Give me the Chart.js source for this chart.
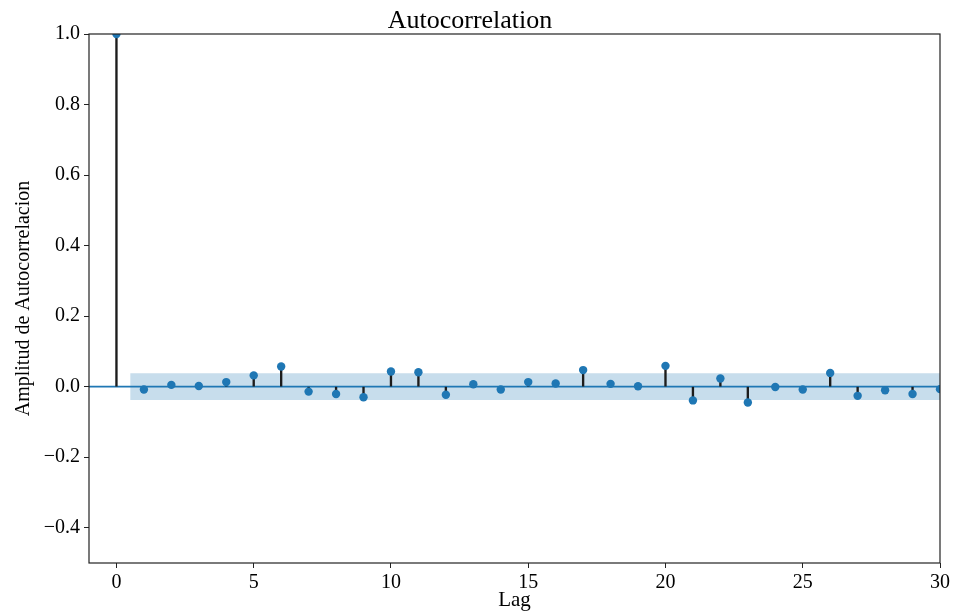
<!DOCTYPE html>
<html>
<head>
<meta charset="utf-8">
<script src="https://cdn.jsdelivr.net/npm/chart.js@4/dist/chart.umd.min.js"></script>
<style>
html,body{margin:0;padding:0;background:#fff;}
#wrap{width:954px;height:613px;position:relative;}
</style>
</head>
<body>
<div id="wrap"><canvas id="c" width="954" height="613"></canvas></div>
<script>
const lags = [0,1,2,3,4,5,6,7,8,9,10,11,12,13,14,15,16,17,18,19,20,21,22,23,24,25,26,27,28,29,30];
const acfValues = [1.0,-0.008,0.005,0.002,0.013,0.032,0.057,-0.014,-0.021,-0.030,0.043,0.041,-0.023,0.007,-0.008,0.013,0.009,0.047,0.008,0.001,0.059,-0.039,0.023,-0.045,-0.001,-0.008,0.039,-0.026,-0.010,-0.021,-0.007];
const confBound = 0.038;
const bandLags = [0.5, 30.5];
const xTicks = [0,5,10,15,20,25,30];
const yTicks = [-0.4,-0.2,0.0,0.2,0.4,0.6,0.8,1.0];

const serif = '"Liberation Serif", "Times New Roman", serif';
const C0 = '#1f77b4';

const framePlugin = {
  id: 'frame',
  afterDatasetsDraw(chart) {
    const {ctx, chartArea: a} = chart;
    ctx.save();
    ctx.strokeStyle = '#222';
    ctx.lineWidth = 1.2;
    ctx.strokeRect(a.left, a.top, a.right - a.left, a.bottom - a.top);
    ctx.restore();
  }
};

new Chart(document.getElementById('c'), {
  type: 'bar',
  data: {
    datasets: [
      {
        type: 'line',
        data: bandLags.map(x => ({x, y: confBound})),
        fill: {value: -confBound},
        backgroundColor: 'rgba(31,119,180,0.25)',
        borderWidth: 0,
        pointRadius: 0,
        order: 4
      },
      {
        type: 'line',
        data: [{x: -1, y: 0}, {x: 30, y: 0}],
        borderColor: C0,
        borderWidth: 1.6,
        pointRadius: 0,
        fill: false,
        order: 3
      },
      {
        type: 'bar',
        data: lags.map((x, i) => ({x, y: acfValues[i]})),
        backgroundColor: '#1c1c1c',
        barThickness: 1.7,
        order: 2
      },
      {
        type: 'scatter',
        data: lags.map((x, i) => ({x, y: acfValues[i]})),
        backgroundColor: C0,
        borderWidth: 0,
        pointRadius: 4.2,
        clip: 0,
        order: 1
      }
    ]
  },
  options: {
    responsive: false,
    animation: false,
    layout: {padding: {left: 0, right: 14, top: 0, bottom: 0}},
    plugins: {
      legend: {display: false},
      tooltip: {enabled: false},
      title: {
        display: true,
        text: 'Autocorrelation',
        color: '#000',
        font: {family: serif, size: 26, weight: 'normal', lineHeight: 1.0},
        padding: {top: 8, bottom: 0}
      }
    },
    scales: {
      x: {
        type: 'linear',
        min: -1,
        max: 30,
        offset: false,
        afterBuildTicks(scale) { scale.ticks = xTicks.map(v => ({value: v})); },
        afterFit(scale) { scale.height = 50; },
        grid: {drawOnChartArea: false, drawTicks: true, tickLength: 5, color: '#222', offset: false},
        border: {display: false},
        ticks: {color: '#000', font: {family: serif, size: 20}, padding: 3, maxRotation: 0,
          callback: v => String(v)},
        title: {display: true, text: 'Lag', color: '#000', font: {family: serif, size: 21}, padding: {top: 1, bottom: 0}}
      },
      y: {
        min: -0.5,
        max: 1.0,
        afterBuildTicks(scale) { scale.ticks = yTicks.map(v => ({value: v})); },
        afterFit(scale) { scale.width = 89; },
        grid: {drawOnChartArea: false, drawTicks: true, tickLength: 5, color: '#222'},
        border: {display: false},
        ticks: {color: '#000', font: {family: serif, size: 20}, padding: 4,
          callback: v => (v < 0 ? '\u2212' : '') + Math.abs(v).toFixed(1)},
        title: {display: true, text: 'Amplitud de Autocorrelacion', color: '#000', font: {family: serif, size: 20}, padding: {top: 12, bottom: 0}}
      }
    }
  },
  plugins: [framePlugin]
});
</script>
</body>
</html>
